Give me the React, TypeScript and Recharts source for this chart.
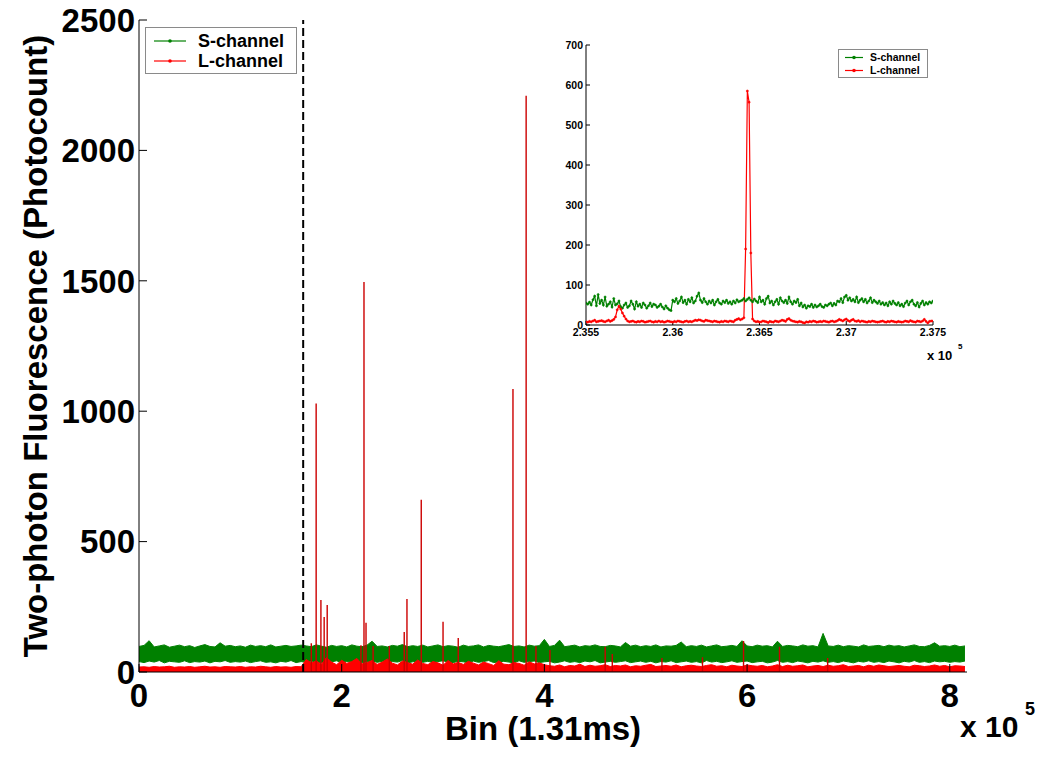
import React from "react";
import { ComposedChart, Area, Line, XAxis, YAxis, ReferenceLine, Legend, Label } from "recharts";

const FONT = "'Liberation Sans', Arial, Helvetica, sans-serif";
const GREEN = "#008000";
const RED = "#ff0000";
const SPIKE_RED = "#cc0000";
const SERIES_ORDER = ["S-channel", "L-channel"];

// main trace, summarised per column of 5000 bins (min/max envelope)
const BIN_WIDTH = 5000;
const MAIN_X_TICKS = [0, 200000, 400000, 600000, 800000];
const MAIN_Y_TICKS = [0, 500, 1000, 1500, 2000, 2500];
const DASH_BIN = 162000;

const S_MAX = [
  98, 102, 120, 96, 100, 104, 95, 99, 103, 97, 101, 94, 100, 105, 98, 96, 112, 99, 102, 97,
  100, 95, 103, 98, 101, 97, 104, 96, 99, 102, 98, 100, 103, 100, 97, 104, 99, 95, 102, 98,
  101, 96, 104, 99, 97, 103, 118, 98, 100, 96, 102, 99, 105, 97, 101, 98, 103, 96, 100, 104,
  97, 101, 99, 95, 103, 98, 100, 104, 96, 102, 99, 97, 101, 105, 98, 100, 96, 103, 99, 101,
  125, 98, 102, 122, 97, 100, 103, 96, 101, 99, 104, 98, 97, 102, 100, 96, 113, 99, 103, 97,
  101, 98, 104, 96, 100, 99, 102, 115, 97, 101, 98, 103, 96, 100, 104, 97, 99, 102, 98, 120,
  100, 97, 103, 99, 101, 96, 118, 98, 102, 100, 97, 104, 99, 101, 96, 148, 100, 98, 103, 97,
  101, 99, 96, 104, 98, 100, 102, 97, 103, 99, 101, 96, 100, 104, 98, 97, 102, 112, 99, 101,
  98, 103, 97, 100,
];

const S_MIN = [
  40, 36, 42, 38, 44, 35, 41, 39, 37, 43, 36, 40, 38, 42, 35, 41, 39, 44, 37, 40,
  38, 42, 36, 40, 43, 37, 39, 35, 41, 38, 44, 36, 40, 37, 42, 38, 35, 41, 39, 43,
  36, 40, 38, 42, 35, 39, 43, 37, 41, 36, 40, 38, 44, 35, 39, 42, 37, 41, 36, 40,
  43, 38, 36, 41, 39, 35, 42, 37, 40, 44, 36, 39, 41, 38, 35, 43, 37, 40, 42, 36,
  39, 41, 35, 38, 43, 37, 40, 36, 42, 39, 44, 35, 38, 41, 37, 40, 43, 36, 39, 42,
  37, 41, 35, 40, 38, 43, 36, 39, 42, 37, 40, 35, 44, 38, 41, 36, 39, 43, 37, 40,
  42, 36, 39, 41, 35, 38, 44, 37, 40, 36, 42, 39, 35, 41, 38, 43, 37, 40, 36, 42,
  39, 35, 41, 38, 43, 37, 40, 36, 42, 39, 35, 41, 38, 44, 37, 40, 36, 42, 39, 41,
  37, 40, 38, 42,
];

const L_MAX = [
  19, 20, 18, 21, 19, 20, 22, 18, 20, 19, 21, 18, 20, 22, 19, 20, 18, 21, 20, 19,
  21, 18, 20, 19, 22, 20, 18, 21, 19, 20, 18, 21, 20,
  48, 35, 42, 30, 55, 38, 28, 45, 33, 40, 52, 31, 36, 44, 29, 38, 50, 34, 27, 42,
  36, 30, 46, 33, 28, 40, 35, 26, 44, 31, 37, 29, 41, 34, 27, 38, 32, 25, 43, 30,
  28, 36, 33, 26, 39, 31, 35, 28,
  24, 22, 27, 20, 25, 23, 30, 21, 26, 22,
  24, 28, 21, 25, 23, 27, 20, 24, 22, 26,
  29, 21, 23, 25, 22, 27, 20, 24, 26, 23,
  21, 25, 28, 22, 24, 20, 26, 23, 21, 27,
  24, 22, 25, 20, 23, 28, 21, 26, 22, 24,
  27, 20, 23, 25, 21, 26, 22, 24, 28, 21,
  23, 25, 20, 26, 22, 27, 24, 21, 23, 25,
  22, 20, 26, 24, 21, 23, 27, 22, 25, 20,
  24, 23, 21,
];

// isolated L-channel bursts
const SPIKE_BINS = [
  170000, 174800, 179500, 182700, 185700, 219000, 222000, 224000, 231000, 247000,
  261700, 264400, 278500, 300000, 315000, 369000, 382000, 391700, 405500, 460000,
  467000, 516000, 556000, 596500, 632000, 679500,
];
const SPIKE_PEAKS = [
  110, 1030, 276, 211, 257, 103, 1495, 189, 100, 100,
  153, 280, 660, 193, 130, 1085, 2210, 100, 84, 97,
  69, 54, 57, 119, 97, 54,
];

// inset: bins 2.355e5 .. 2.375e5
const INSET_START = 235500;
const INSET_STEP = 10;
const INSET_X_TICKS = [235500, 236000, 236500, 237000, 237500];
const INSET_Y_TICKS = [0, 100, 200, 300, 400, 500, 600, 700];

const INSET_S = [
  55, 52, 57, 50, 63, 72, 48, 76, 54, 62, 50, 70, 47, 52, 58, 45, 66, 50, 53, 60,
  46, 42, 50, 55, 44, 48, 60, 52, 40, 58, 47, 52, 44, 55, 50, 42, 48, 55, 46, 52,
  50, 44, 47, 52, 45, 40, 48, 42, 38, 36, 62, 58, 66, 54, 60, 70, 56, 62, 52, 64,
  58, 68, 55, 60, 72, 80, 62, 56, 66, 58, 52, 60, 55, 62, 50, 58, 64, 55, 52, 60,
  56, 62, 54, 58, 52, 60, 55, 63, 58, 60, 62, 66, 60, 64, 68, 62, 58, 65, 60, 56,
  70, 58, 62, 52, 66, 72, 55, 60, 50, 58, 64, 52, 68, 60, 56, 62, 54, 70, 58, 52,
  60, 56, 64, 48, 55, 45, 50, 42, 48, 46, 52, 44, 50, 45, 48, 52, 46, 44, 50, 48,
  52, 55, 48, 54, 50, 60, 58, 66, 56, 70, 74, 62, 68, 60, 64, 58, 70, 56, 62, 66,
  58, 64, 55, 60, 68, 56, 62, 58, 54, 60, 52, 56, 50, 55, 48, 58, 52, 60, 54, 50,
  56, 48, 52, 46, 55, 60, 50, 58, 62, 52, 48, 56, 45, 54, 60, 50, 56, 52, 58, 55,
  60,
];

const INSET_L = [
  8, 7, 9, 8, 10, 12, 8, 9, 10, 11, 9, 8, 10, 12, 9, 11, 14, 20, 38, 47,
  40, 30, 22, 15, 10, 8, 9, 10, 8, 7, 9, 8, 10, 9, 7, 8, 9, 10, 8, 7,
  9, 8, 10, 8, 9, 7, 8, 10, 9, 8, 7, 9, 8, 10, 9, 8, 7, 9, 10, 8,
  9, 8, 10, 12, 11, 13, 12, 10, 9, 12, 11, 10, 9, 8, 10, 9, 8, 7, 9, 8,
  10, 9, 8, 10, 9, 8, 12, 14, 16, 13, 15, 18, 190, 585, 557, 180, 15, 10, 8, 9,
  7, 8, 10, 9, 8, 6, 9, 8, 7, 10, 9, 8, 10, 12, 11, 9, 14, 16, 12, 10,
  9, 8, 7, 9, 8, 6, 5, 8, 7, 9, 8, 10, 9, 7, 8, 9, 8, 10, 9, 8,
  7, 9, 10, 8, 9, 11, 14, 12, 10, 13, 15, 11, 9, 12, 14, 10, 9, 11, 8, 10,
  9, 8, 7, 9, 8, 10, 9, 8, 7, 8, 9, 10, 8, 7, 9, 8, 10, 9, 8, 7,
  9, 8, 7, 8, 10, 9, 8, 11, 9, 8, 7, 10, 9, 8, 10, 14, 9, 5, 9, 10,
  10,
];

const mainRows = S_MIN.map((lo, i) => ({ bin: i * BIN_WIDTH, s: [lo, S_MAX[i]], l: L_MAX[i] }));
const spikeRows = SPIKE_BINS.flatMap((bin, i) => [
  { bin, v: 0 },
  { bin, v: SPIKE_PEAKS[i] },
  { bin, v: 0 },
]);
const insetRows = INSET_S.map((s, i) => ({ bin: INSET_START + i * INSET_STEP, s, l: INSET_L[i] }));

const fmt5 = (v: number) => String(Number((v / 1e5).toFixed(4)));

function LegendBox({ payload, fontSize, width, height, lineW, rowH, padTop, padLeft, gap }: any) {
  const items = (payload ?? [])
    .filter((p: any) => p.type !== "none" && SERIES_ORDER.includes(p.value))
    .sort((a: any, b: any) => SERIES_ORDER.indexOf(a.value) - SERIES_ORDER.indexOf(b.value));
  return (
    <div
      style={{
        width, height, boxSizing: "border-box", border: "1px solid #8a8a8a", background: "#fff",
        paddingTop: padTop, paddingLeft: padLeft, fontFamily: FONT, fontWeight: 700, fontSize, color: "#000",
      }}
    >
      {items.map((it: any) => (
        <div key={it.value} style={{ display: "flex", alignItems: "center", height: rowH }}>
          <svg width={lineW} height={rowH}>
            <line x1={0} x2={lineW} y1={rowH / 2} y2={rowH / 2} stroke={it.color} strokeWidth={1.2} />
            <circle cx={lineW / 2} cy={rowH / 2} r={1.8} fill={it.color} />
          </svg>
          <span style={{ marginLeft: gap, lineHeight: 1 }}>{it.value}</span>
        </div>
      ))}
    </div>
  );
}

const bigTick = { fontSize: 33, fontWeight: 700, fontFamily: FONT, fill: "#000" };
const smallTick = { fontSize: 10.5, fontWeight: 700, fontFamily: FONT, fill: "#000" };

export default function App() {
  return (
    <div style={{ position: "absolute", left: 0, top: 0, width: 1050, height: 760, background: "#fff" }}>
      <ComposedChart width={1050} height={760} data={mainRows} margin={{ top: 20, right: 83, bottom: 38, left: 0 }}>
        <XAxis
          dataKey="bin" type="number" domain={[0, 817000]} ticks={MAIN_X_TICKS} allowDataOverflow
          tickFormatter={fmt5} tick={bigTick} tickSize={-8} tickMargin={20} height={50}
          axisLine={{ stroke: "#000" }} tickLine={{ stroke: "#000" }}
        >
          <Label
            value="Bin (1.31ms)" position="bottom" offset={-5} dx={-10}
            style={{ fontSize: 33, fontWeight: 700, fontFamily: FONT, fill: "#000" }}
          />
        </XAxis>
        <XAxis xAxisId="top" orientation="top" dataKey="bin" type="number" domain={[0, 817000]} tick={false} height={0} axisLine={{ stroke: "#000" }} />
        <YAxis
          type="number" domain={[0, 2500]} ticks={MAIN_Y_TICKS} allowDataOverflow width={139}
          tick={bigTick} tickSize={-8} tickMargin={12} axisLine={{ stroke: "#000" }} tickLine={{ stroke: "#000" }}
        >
          <Label
            value="Two-photon Fluorescence (Photocount)" angle={-90} position="insideLeft" offset={35}
            style={{ textAnchor: "middle", fontSize: 33, fontWeight: 700, fontFamily: FONT, fill: "#000" }}
          />
        </YAxis>
        <YAxis yAxisId="right" orientation="right" type="number" domain={[0, 2500]} tick={false} width={0} axisLine={{ stroke: "#000" }} />
        <Area
          dataKey="s" name="S-channel" type="linear" stroke={GREEN} strokeWidth={1}
          fill={GREEN} fillOpacity={1} dot={false} activeDot={false} isAnimationActive={false}
        />
        <Area
          dataKey="l" name="L-channel" type="linear" stroke={RED} strokeWidth={1}
          fill={RED} fillOpacity={1} dot={false} activeDot={false} isAnimationActive={false}
        />
        <Line
          data={spikeRows} dataKey="v" legendType="none" type="linear" stroke={SPIKE_RED}
          strokeWidth={1.4} dot={false} activeDot={false} isAnimationActive={false}
        />
        <ReferenceLine x={DASH_BIN} stroke="#000" strokeWidth={2} strokeDasharray="8 4" ifOverflow="visible" />
        <Legend
          layout="horizontal" verticalAlign="middle" align="center"
          wrapperStyle={{ left: 145, top: 27, width: 152, height: 47 }}
          content={(p: any) => (
            <LegendBox payload={p.payload} fontSize={18} width={152} height={47} lineW={32} rowH={20} padTop={3} padLeft={8} gap={12} />
          )}
        />
      </ComposedChart>

      <div style={{ position: "absolute", left: 520, top: 30 }}>
        <ComposedChart width={460} height={370} data={insetRows} margin={{ top: 15, right: 47, bottom: 50, left: 0 }}>
          <XAxis
            dataKey="bin" type="number" domain={[INSET_START, 237500]} ticks={INSET_X_TICKS} allowDataOverflow
            tickFormatter={fmt5} tick={smallTick} tickSize={-4} tickMargin={8} height={25}
            axisLine={{ stroke: "#000" }} tickLine={{ stroke: "#000" }}
          />
          <XAxis xAxisId="top" orientation="top" dataKey="bin" type="number" domain={[INSET_START, 237500]} tick={false} height={0} axisLine={{ stroke: "#000" }} />
          <YAxis
            type="number" domain={[0, 700]} ticks={INSET_Y_TICKS} allowDataOverflow width={66}
            tick={smallTick} tickSize={-4} tickMargin={7} axisLine={{ stroke: "#000" }} tickLine={{ stroke: "#000" }}
          />
          <YAxis yAxisId="right" orientation="right" type="number" domain={[0, 700]} tick={false} width={0} axisLine={{ stroke: "#000" }} />
          <Line
            dataKey="s" name="S-channel" type="linear" stroke={GREEN} strokeWidth={1.2}
            dot={{ r: 1.1, fill: GREEN, stroke: GREEN, strokeWidth: 0.5 }} activeDot={false} isAnimationActive={false}
          />
          <Line
            dataKey="l" name="L-channel" type="linear" stroke={RED} strokeWidth={1.2}
            dot={{ r: 1.1, fill: RED, stroke: RED, strokeWidth: 0.5 }} activeDot={false} isAnimationActive={false}
          />
          <Legend
            layout="horizontal" verticalAlign="middle" align="center"
            wrapperStyle={{ left: 318, top: 19, width: 90, height: 29 }}
            content={(p: any) => (
              <LegendBox payload={p.payload} fontSize={10.5} width={90} height={29} lineW={18} rowH={13} padTop={1} padLeft={6} gap={7} />
            )}
          />
        </ComposedChart>
      </div>

      <svg width={1050} height={760} style={{ position: "absolute", left: 0, top: 0, pointerEvents: "none" }}>
        <g fontFamily={FONT} fontWeight={700} fill="#000">
          <text x={960} y={737} fontSize={30}>x 10</text>
          <text x={1025} y={715} fontSize={18}>5</text>
          <text x={927} y={360} fontSize={13}>x 10</text>
          <text x={958} y={349} fontSize={8}>5</text>
        </g>
      </svg>
    </div>
  );
}
